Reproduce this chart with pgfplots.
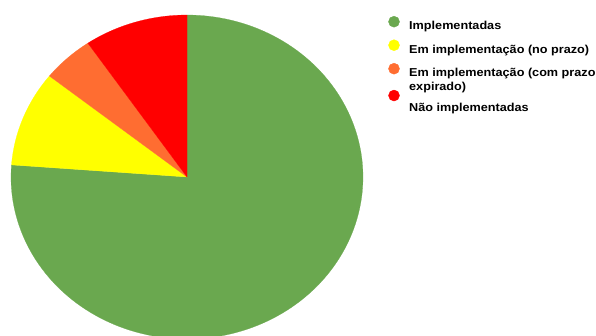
\documentclass[border=0pt]{standalone}
\usepackage{pgfplots}
\usepackage{pgfplotstable}
\pgfplotsset{compat=1.18}
\usepackage{fontspec}
\setmainfont{Liberation Sans}[FakeStretch=1.1]
\definecolor{cGreen}{HTML}{6AA84F}
\definecolor{cYellow}{HTML}{FFFF00}
\definecolor{cOrange}{HTML}{FF6D31}
\definecolor{cRed}{HTML}{FF0000}
\pgfplotstableread[col sep=comma]{
label,value
Implementadas,16
NoPrazo,2
ComPrazoExpirado,1
NaoImplementadas,2
}\pietable
\newcommand\ls{\rule[-3bp]{0pt}{11.5bp}}
\begin{document}%
\begin{tikzpicture}
\pgfplotstablegetelem{0}{value}\of\pietable\let\vA\pgfplotsretval
\pgfplotstablegetelem{1}{value}\of\pietable\let\vB\pgfplotsretval
\pgfplotstablegetelem{2}{value}\of\pietable\let\vC\pgfplotsretval
\pgfplotstablegetelem{3}{value}\of\pietable\let\vD\pgfplotsretval
\pgfmathsetmacro\tot{\vA+\vB+\vC+\vD}
\pgfmathsetmacro\aA{90}
\pgfmathsetmacro\aB{\aA-360*\vA/\tot}
\pgfmathsetmacro\aC{\aB-360*\vB/\tot}
\pgfmathsetmacro\aD{\aC-360*\vC/\tot}
\pgfmathsetmacro\aE{\aD-360*\vD/\tot}
\path (0,0) rectangle (596bp,-336bp);
\begin{scope}[overlay]
\begin{axis}[
  at={(187bp,-177bp)}, anchor=center,
  scale only axis, width=352bp, height=324bp,
  xmin=-1, xmax=1, ymin=-1, ymax=1,
  hide axis, clip=false,
  legend cell align=left,
  legend style={
    at={(1.0719,0.9969)}, anchor=north west,
    draw=none, fill=none, inner sep=0pt, outer sep=0pt,
    font=\fontsize{11.5bp}{13.4bp}\selectfont\bfseries,
    nodes={inner sep=0pt},
    row sep=8.5bp,
    /tikz/every odd column/.append style={column sep=9.5bp},
  },
]
\addplot[fill=cGreen, draw=cGreen, line width=0.2bp, domain=\aB:\aA, samples=150, variable=\t, forget plot]
  ({cos(\t)},{sin(\t)}) -- (axis cs:0,0) -- cycle;
\addplot[fill=cYellow, draw=cYellow, line width=0.2bp, domain=\aC:\aB, samples=40, variable=\t, forget plot]
  ({cos(\t)},{sin(\t)}) -- (axis cs:0,0) -- cycle;
\addplot[fill=cOrange, draw=cOrange, line width=0.2bp, domain=\aD:\aC, samples=30, variable=\t, forget plot]
  ({cos(\t)},{sin(\t)}) -- (axis cs:0,0) -- cycle;
\addplot[fill=cRed, draw=cRed, line width=0.2bp, domain=\aE:\aD, samples=40, variable=\t, forget plot]
  ({cos(\t)},{sin(\t)}) -- (axis cs:0,0) -- cycle;
\addlegendimage{legend image code/.code={\fill[cGreen] (5.5bp,4.3bp) circle (5.5bp);}}
\addlegendentry{Implementadas\ls}
\addlegendimage{legend image code/.code={\fill[cYellow] (5.5bp,4.3bp) circle (5.5bp);}}
\addlegendentry{Em implementação (no prazo)\ls}
\addlegendimage{legend image code/.code={\fill[cOrange] (5.5bp,4.3bp) circle (5.5bp);}}
\addlegendentry{\begin{tabular}[t]{@{}l@{}}Em implementação (com prazo\\expirado)\end{tabular}}
\addlegendimage{legend image code/.code={\fill[cRed] (5.5bp,4.3bp) circle (5.5bp);}}
\addlegendentry{Não implementadas\rule[-3bp]{0pt}{27.3bp}}
\end{axis}
\end{scope}
\end{tikzpicture}%
\end{document}
